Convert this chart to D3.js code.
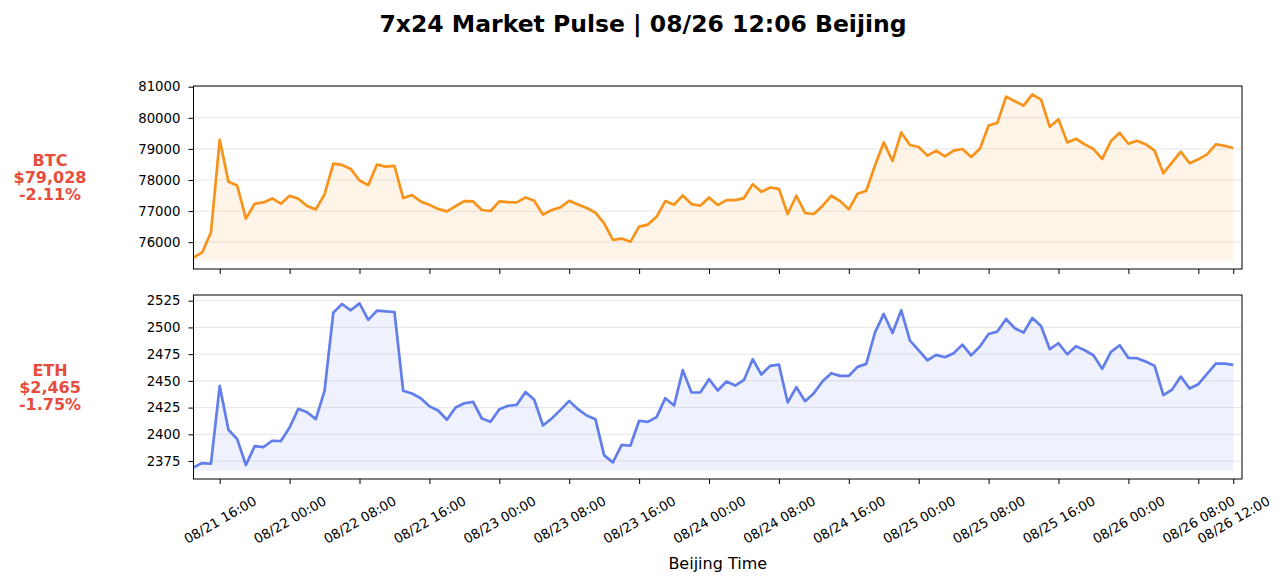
<!DOCTYPE html>
<html>
<head>
<meta charset="utf-8">
<script src="https://cdn.jsdelivr.net/npm/d3@7"></script>
<style>
  body { margin: 0; background: #fff; }
  svg { display: block; font-family: "DejaVu Sans", sans-serif; }
</style>
</head>
<body>
<div id="chart"></div>
<script>
// hourly closes, 08/21 13:00 -> 08/26 12:00 (Beijing)
var startTime = '2025-08-21T13:00:00';
var btcPrices = [
  75510, 75670, 76320, 79294, 77940, 77823, 76757, 77237, 77279, 77407,
  77237, 77493, 77397, 77162, 77055, 77535, 78527, 78484, 78356, 77983,
  77834, 78495, 78431, 78452, 77418, 77514, 77311, 77200, 77070, 76991,
  77162, 77322, 77311, 77034, 77002, 77311, 77290, 77279, 77439, 77333,
  76886, 77034, 77119, 77333, 77215, 77098, 76949, 76608, 76075, 76117,
  76011, 76502, 76565, 76821, 77322, 77205, 77503, 77226, 77173, 77439,
  77194, 77354, 77354, 77418, 77866, 77620, 77759, 77716, 76906, 77493,
  76938, 76906, 77173, 77493, 77322, 77055, 77557, 77652, 78473, 79209,
  78612, 79529, 79124, 79060, 78783, 78942, 78761, 78942, 78996, 78740,
  79006, 79753, 79838, 80680, 80531, 80392, 80755, 80584, 79710, 79955,
  79209, 79326, 79145, 78996, 78676, 79252, 79518, 79166, 79262, 79145,
  78942, 78217, 78569, 78910, 78537, 78665, 78825, 79145, 79102, 79028
];
var ethPrices = [
  2369.1, 2373.1, 2372.5, 2445.3, 2404.3, 2395.5, 2371.3, 2389.0, 2388.1, 2394.0,
  2393.7, 2406.4, 2423.9, 2420.7, 2414.2, 2440.7, 2513.8, 2521.9, 2516.0, 2522.5,
  2507.0, 2515.7, 2515.0, 2514.4, 2440.7, 2438.2, 2433.8, 2426.3, 2422.3, 2413.6,
  2425.1, 2429.1, 2430.4, 2414.8, 2411.7, 2423.5, 2426.7, 2427.6, 2439.7, 2432.3,
  2408.3, 2414.8, 2422.9, 2431.3, 2423.5, 2417.6, 2414.2, 2380.3, 2373.8, 2390.2,
  2389.3, 2412.7, 2411.7, 2416.1, 2433.8, 2427.0, 2460.0, 2439.1, 2439.1, 2451.6,
  2441.0, 2449.4, 2445.6, 2450.9, 2470.2, 2455.9, 2464.0, 2465.2, 2429.8, 2444.1,
  2431.0, 2438.5, 2449.7, 2457.2, 2454.7, 2454.7, 2463.1, 2465.9, 2495.4, 2512.6,
  2494.8, 2516.0, 2487.7, 2478.6, 2469.3, 2474.3, 2472.1, 2475.8, 2483.9, 2473.8,
  2482.1, 2493.9, 2496.1, 2507.9, 2499.2, 2495.1, 2508.8, 2501.3, 2479.6, 2485.2,
  2474.9, 2482.4, 2478.6, 2474.0, 2461.2, 2477.1, 2483.3, 2471.5, 2471.2, 2468.0,
  2464.0, 2436.6, 2441.9, 2454.0, 2442.8, 2446.9, 2456.5, 2466.2, 2466.2, 2465.0
];
var btcTicks = [76000, 77000, 78000, 79000, 80000, 81000];
var ethTicks = [2375, 2400, 2425, 2450, 2475, 2500, 2525];
var timeTicks = [
  '2025-08-21T16:00', '2025-08-22T00:00', '2025-08-22T08:00', '2025-08-22T16:00',
  '2025-08-23T00:00', '2025-08-23T08:00', '2025-08-23T16:00', '2025-08-24T00:00',
  '2025-08-24T08:00', '2025-08-24T16:00', '2025-08-25T00:00', '2025-08-25T08:00',
  '2025-08-25T16:00', '2025-08-26T00:00', '2025-08-26T08:00', '2025-08-26T12:00'
];
var coins = [
  { name: 'BTC', price: '$79,028', change: '-2.11%', values: btcPrices, ticks: btcTicks, color: '#f7931a' },
  { name: 'ETH', price: '$2,465', change: '-1.75%', values: ethPrices, ticks: ethTicks, color: '#627eea' }
];
var titleText = '7x24 Market Pulse | 08/26 12:06 Beijing';
var xLabel = 'Beijing Time';

var W = 1286, H = 583;
var left = 193.5, right = 1242;
var panels = [{ top: 86, bottom: 269 }, { top: 295, bottom: 479 }];

var svg = d3.select('#chart').append('svg')
    .attr('width', W)
    .attr('height', H);

var t0 = new Date(startTime);
var times = btcPrices.map((d, i) => d3.timeHour.offset(t0, i));

var x = d3.scaleTime()
    .domain([t0, d3.timeHour.offset(times[times.length - 1], 1)])
    .range([left, right]);

svg.append('text')
    .attr('x', W / 2)
    .attr('y', 24)
    .attr('text-anchor', 'middle')
    .attr('dominant-baseline', 'central')
    .style('font-size', '23.5px')
    .attr('font-weight', 'bold')
    .text(titleText);

coins.forEach((c, k) => {
    var p = panels[k];
    var data = c.values.map((v, i) => ({ t: times[i], v: v }));

    var lo = d3.min(c.values), hi = d3.max(c.values);
    var base = lo - (hi - lo) * 0.02;
    var pad = (hi - base) * 0.05;

    var y = d3.scaleLinear()
        .domain([base - pad, hi + pad])
        .range([p.bottom, p.top]);

    // grid
    svg.append('g')
        .selectAll('line')
        .data(c.ticks)
        .enter()
        .append('line')
        .attr('x1', left)
        .attr('x2', right)
        .attr('y1', d => y(d))
        .attr('y2', d => y(d))
        .attr('stroke', '#e6e6e6')
        .attr('stroke-width', 1);

    var area = d3.area()
        .x(d => x(d.t))
        .y0(y(base))
        .y1(d => y(d.v));

    var line = d3.line()
        .x(d => x(d.t))
        .y(d => y(d.v));

    svg.append('path')
        .datum(data)
        .attr('d', area)
        .attr('fill', c.color)
        .attr('fill-opacity', 0.1);

    svg.append('path')
        .datum(data)
        .attr('d', line)
        .attr('fill', 'none')
        .attr('stroke', c.color)
        .attr('stroke-width', 2.7)
        .attr('stroke-linejoin', 'round');

    // frame
    svg.append('rect')
        .attr('x', left)
        .attr('y', p.top)
        .attr('width', right - left)
        .attr('height', p.bottom - p.top)
        .attr('fill', 'none')
        .attr('stroke', '#000')
        .attr('stroke-width', 1);

    var yAxis = d3.axisLeft(y)
        .tickValues(c.ticks)
        .tickSize(5)
        .tickSizeOuter(0)
        .tickPadding(8)
        .tickFormat(d3.format('d'));

    var gy = svg.append('g')
        .attr('transform', 'translate(' + left + ',0)')
        .call(yAxis);
    gy.select('.domain').remove();
    gy.attr('font-family', null).attr('font-size', null);
    gy.selectAll('text').style('font-size', '13.3px').attr('fill', '#000');

    var xAxis = d3.axisBottom(x)
        .tickValues(timeTicks.map(s => new Date(s)))
        .tickSize(5)
        .tickSizeOuter(0)
        .tickFormat(k === coins.length - 1 ? d3.timeFormat('%m/%d %H:%M') : '');

    var gx = svg.append('g')
        .attr('transform', 'translate(0,' + p.bottom + ')')
        .call(xAxis);
    gx.select('.domain').remove();
    gx.attr('font-family', null).attr('font-size', null);
    gx.selectAll('text')
        .style('font-size', '13.3px')
        .attr('fill', '#000')
        .attr('y', 0)
        .attr('dy', null)
        .attr('dominant-baseline', 'central')
        .attr('text-anchor', 'middle')
        .attr('transform', 'translate(0,41) rotate(-30)');

    // side label
    var mid = (p.top + p.bottom) / 2;
    var lbl = svg.append('text')
        .attr('x', 50)
        .attr('y', mid)
        .attr('text-anchor', 'middle')
        .attr('fill', '#e74c3c')
        .attr('font-weight', 'bold')
        .style('font-size', '16px');
    [c.name, c.price, c.change].forEach((s, j) => {
        lbl.append('tspan')
            .attr('x', 50)
            .attr('y', mid + (j - 1) * 17)
            .attr('dominant-baseline', 'central')
            .text(s);
    });
});

svg.append('text')
    .attr('x', (left + right) / 2)
    .attr('y', 563)
    .attr('text-anchor', 'middle')
    .attr('dominant-baseline', 'central')
    .style('font-size', '16px')
    .text(xLabel);
</script>
</body>
</html>
